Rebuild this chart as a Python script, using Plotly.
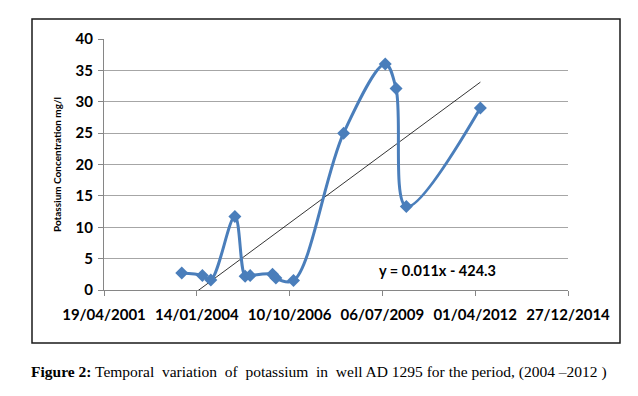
import numpy as np
import pandas as pd
import plotly.graph_objects as go

# Data
sample_dates = ["2003-08-05", "2004-03-14", "2004-06-13", "2005-02-27", "2005-06-18",
                "2005-08-11", "2006-04-09", "2006-05-15", "2006-11-21", "2008-05-14",
                "2009-08-06", "2009-11-30", "2010-03-21", "2012-05-27"]
potassium = [2.7, 2.3, 1.6, 11.7, 2.2, 2.3, 2.5, 1.9, 1.5, 25.0, 36.0, 32.1, 13.3, 29.0]

tick_dates = ["2001-04-19", "2004-01-14", "2006-10-10", "2009-07-06", "2012-04-01", "2014-12-27"]
tick_labels = ["19/04/2001", "14/01/2004", "10/10/2006", "06/07/2009", "01/04/2012", "27/12/2014"]
y_ticks = [0, 5, 10, 15, 20, 25, 30, 35, 40]

equation_text = "y = 0.011x - 424.3"
caption_bold = "Figure 2:"
caption_rest = " Temporal  variation  of  potassium  in  well AD 1295 for the period, (2004 \u20132012 )"

# Linear trend (least squares on Excel date serials, as Excel does)
dts = pd.to_datetime(sample_dates)
serial = np.array((dts - pd.Timestamp("1899-12-30")).days, dtype=float)
slope, intercept = np.polyfit(serial, np.array(potassium), 1)
trend_x = [dts.min(), dts.max()]
trend_y = [slope * serial.min() + intercept, slope * serial.max() + intercept]

fig = go.Figure()
fig.add_trace(go.Scatter(
    x=trend_x, y=trend_y, mode="lines",
    line=dict(color="#000000", width=0.8), showlegend=False, hoverinfo="skip"))
fig.add_trace(go.Scatter(
    x=sample_dates, y=potassium, mode="lines+markers",
    line=dict(color="#4A7EBB", width=3, shape="spline", smoothing=1.0),
    marker=dict(symbol="diamond", size=10, color="#4A7EBB"),
    showlegend=False, cliponaxis=False))

W, H = 638, 396
L, R, T, B = 104, 568, 39, 290
pw, ph = R - L, B - T

def px(x):
    return (x - L) / pw

def py(y):
    return (B - y) / ph

tick_font = dict(family="Lato", size=15, color="#000000", weight="bold")

fig.update_layout(
    width=W, height=H,
    margin=dict(l=L, r=W - R, t=T, b=H - B),
    paper_bgcolor="white", plot_bgcolor="white",
    font=dict(family="Lato", color="#000000"),
    xaxis=dict(
        type="date",
        range=[tick_dates[0], tick_dates[-1]],
        tickvals=tick_dates, ticktext=tick_labels,
        showgrid=False, zeroline=False,
        showline=True, linecolor="#868686", linewidth=1,
        ticks="outside", ticklen=5, tickcolor="#868686",
        tickfont=tick_font,
        ticklabelstandoff=6,
    ),
    yaxis=dict(
        range=[0, 40], tickvals=y_ticks,
        showgrid=True, gridcolor="#A6A6A6", gridwidth=1,
        zeroline=False,
        showline=True, linecolor="#868686", linewidth=1,
        ticks="outside", ticklen=5, tickcolor="#868686",
        tickfont=tick_font,
        ticklabelstandoff=2,
        title=dict(text="<b>Potassium Concentration mg/l</b>",
                   font=dict(family="Lato", size=10, color="#000000"),
                   standoff=12),
    ),
    shapes=[dict(type="rect", xref="paper", yref="paper",
                 x0=px(32), x1=px(620), y0=py(343), y1=py(19),
                 line=dict(color="#1A1A1A", width=1.5), layer="below")],
    annotations=[
        dict(xref="paper", yref="paper", x=px(437), y=py(270),
             text="<b>" + equation_text + "</b>", showarrow=False,
             font=dict(family="Lato", size=14.5, color="#000000"),
             xanchor="center", yanchor="middle"),
        dict(xref="paper", yref="paper", x=px(29), y=py(372),
             text="<b>" + caption_bold + "</b>" + caption_rest, showarrow=False,
             font=dict(family="Liberation Serif", size=15.5, color="#000000"),
             xanchor="left", yanchor="middle"),
    ],
)

fig.write_html("out.html", config={"displayModeBar": False},
               post_script="document.body.style.margin='0';")
